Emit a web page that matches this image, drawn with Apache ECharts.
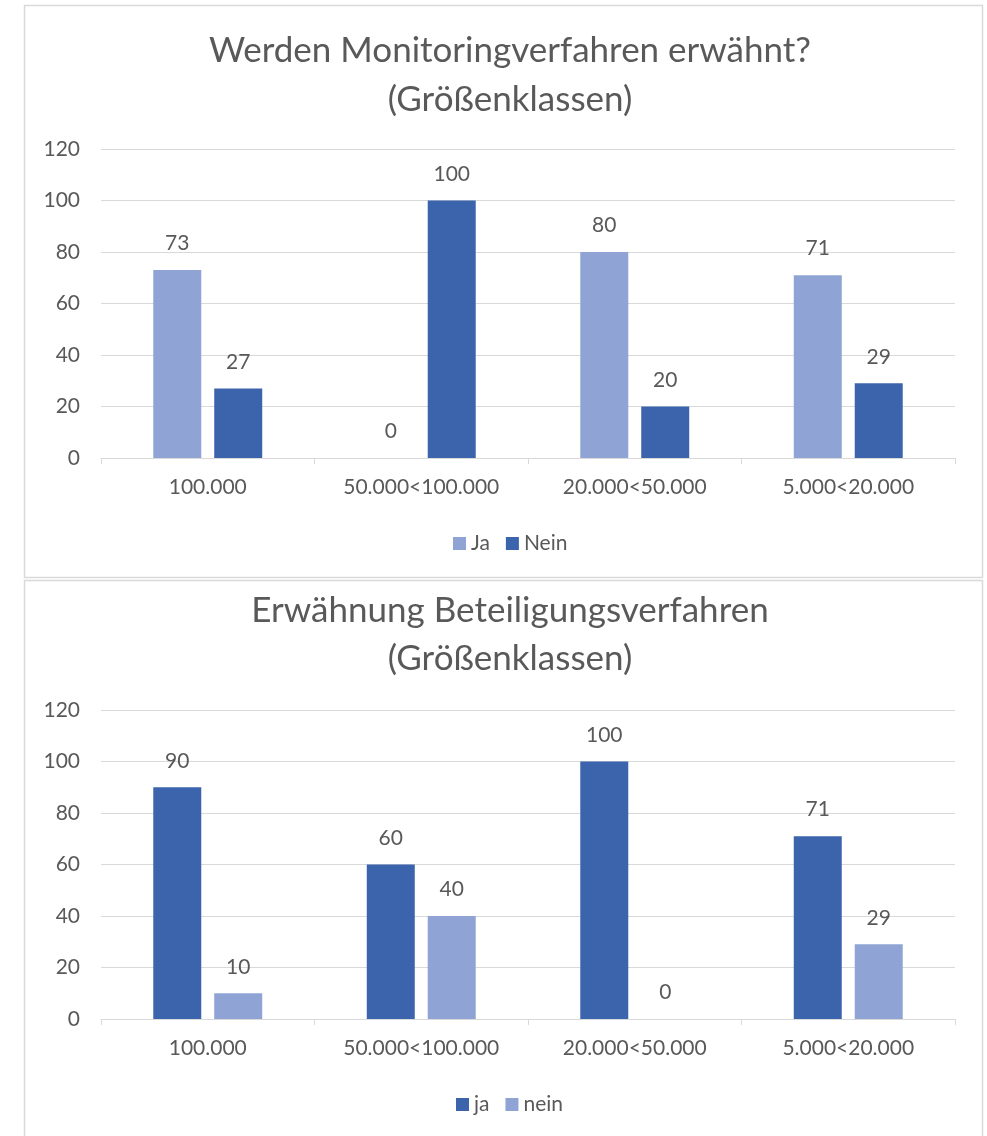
<!DOCTYPE html>
<html>
<head>
<meta charset="utf-8">
<script src="https://cdn.jsdelivr.net/npm/echarts@6/dist/echarts.min.js"></script>
<style>
html,body{margin:0;padding:0;background:#fff;}
#c{width:987px;height:1136px;}
</style>
</head>
<body>
<div id="c"></div>
<script>
const categories = ['100.000', '50.000<100.000', '20.000<50.000', '5.000<20.000'];
const yTicks = [0, 20, 40, 60, 80, 100, 120];

const title1 = 'Werden Monitoringverfahren erwähnt?\n(Größenklassen)';
const chart1Names = ['Ja', 'Nein'];
const chart1Ja = [73, 0, 80, 71];
const chart1Nein = [27, 100, 20, 29];

const title2 = 'Erwähnung Beteiligungsverfahren\n(Größenklassen)';
const chart2Names = ['ja', 'nein'];
const chart2Ja = [90, 60, 100, 71];
const chart2Nein = [10, 40, 0, 29];

const LIGHT = '#8FA4D5';
const DARK = '#3C64AD';
const TXT = '#595959';
const GRID = '#D9D9D9';
const FONT = 'Lato';

const chart = echarts.init(document.getElementById('c'), null, {renderer: 'canvas'});

function xAxis(idx) {
  return {
    type: 'category', gridIndex: idx, data: categories,
    axisLine: {lineStyle: {color: GRID, width: 1}},
    axisTick: {show: true, length: 6, lineStyle: {color: GRID}},
    axisLabel: {color: TXT, fontFamily: FONT, fontSize: 21, margin: 19},
    splitLine: {show: false}
  };
}
function yAxis(idx) {
  return {
    type: 'value', gridIndex: idx, min: yTicks[0], max: yTicks[yTicks.length - 1], interval: 20,
    axisLine: {show: false}, axisTick: {show: false},
    axisLabel: {color: TXT, fontFamily: FONT, fontSize: 21, margin: 21},
    splitLine: {lineStyle: {color: GRID, width: 1}}
  };
}
function bar(name, data, color, idx) {
  return {
    type: 'bar', name: name, data: data, xAxisIndex: idx, yAxisIndex: idx,
    barWidth: 48, barGap: '27%',
    itemStyle: {color: color},
    label: {show: true, position: 'top', distance: 16, color: TXT, fontFamily: FONT, fontSize: 21},
    animation: false
  };
}

chart.setOption({
  animation: false,
  backgroundColor: '#fff',
  graphic: [
    {type: 'rect', shape: {x: 24.5, y: 5.5, width: 958, height: 572}, style: {fill: 'none', stroke: '#D9D9D9', lineWidth: 1.5}, silent: true},
    {type: 'rect', shape: {x: 24.5, y: 580.5, width: 958, height: 570}, style: {fill: 'none', stroke: '#D9D9D9', lineWidth: 1.5}, silent: true}
  ],
  title: [
    {text: title1, left: 505, top: 21, textAlign: 'center',
     textStyle: {color: TXT, fontFamily: FONT, fontSize: 35, fontWeight: 'normal', lineHeight: 49}},
    {text: title2, left: 505, top: 582, textAlign: 'center',
     textStyle: {color: TXT, fontFamily: FONT, fontSize: 35, fontWeight: 'normal', lineHeight: 48}}
  ],
  legend: [
    {data: chart1Names, left: 448, top: 528, itemWidth: 13, itemHeight: 13, itemGap: 16, icon: 'rect',
     textStyle: {color: TXT, fontFamily: FONT, fontSize: 21}},
    {data: chart2Names, left: 451, top: 1089, itemWidth: 13, itemHeight: 13, itemGap: 16, icon: 'rect',
     textStyle: {color: TXT, fontFamily: FONT, fontSize: 21}}
  ],
  grid: [
    {left: 101, right: 32, top: 149, height: 309},
    {left: 101, right: 32, top: 710, height: 309}
  ],
  xAxis: [xAxis(0), xAxis(1)],
  yAxis: [yAxis(0), yAxis(1)],
  series: [
    bar(chart1Names[0], chart1Ja, LIGHT, 0),
    bar(chart1Names[1], chart1Nein, DARK, 0),
    bar(chart2Names[0], chart2Ja, DARK, 1),
    bar(chart2Names[1], chart2Nein, LIGHT, 1)
  ]
});
</script>
</body>
</html>
